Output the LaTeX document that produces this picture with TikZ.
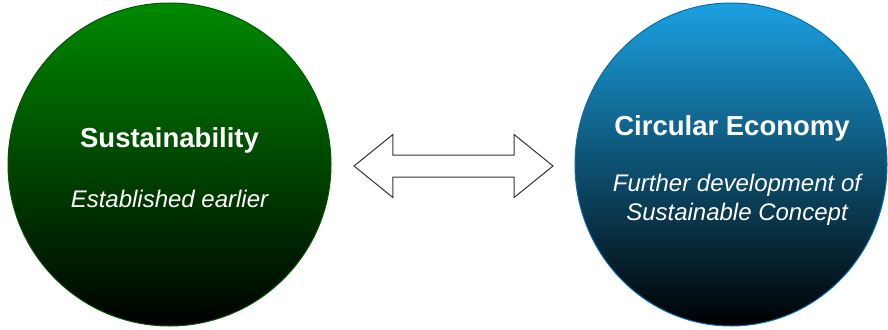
\documentclass[tikz,border=0pt]{standalone}
\usepackage{fontspec}
\setmainfont{Liberation Sans}
\usepackage{xcolor}
\usepackage{tikz}
\usetikzlibrary{shapes.geometric,shapes.arrows}

\definecolor{leafgreen}{HTML}{008A00}
\definecolor{leafedge}{HTML}{005700}
\definecolor{seablue}{HTML}{1BA1E2}
\definecolor{seaedge}{HTML}{006EAF}

\begin{document}
\begin{tikzpicture}[x=1pt, y=-1pt,
ring/.style={ellipse, draw, line width=1pt, inner sep=0pt},
title/.style={anchor=base, text=white, font=\fontsize{27.5}{33}\selectfont\bfseries},
note/.style={anchor=base, text=white, align=center, font=\fontsize{24}{29}\selectfont\itshape},
link/.style={double arrow, draw=black!80, fill=white, line width=1pt, inner xsep=0pt, inner ysep=10.5pt,
  double arrow head extend=20.5pt, double arrow tip angle=78, minimum height=199pt}
]
\useasboundingbox (0,0) rectangle (888,329);
\node[ring, draw=leafedge, top color=leafgreen, bottom color=black, minimum width=323pt, minimum height=323pt] (sus) at (169.5,164.5) {};
\node[ring, draw=seaedge, top color=seablue, bottom color=black, minimum width=312pt, minimum height=323pt] (circ) at (731,164.5) {};
\node[link] (both) at (453.5,166) {};

\node[title] (susTitle) at (169.5,147) {Sustainability};
\node[note] (susText) at (169.5,207.5) {Established earlier};
\node[title] (circTitle) at (732,135) {Circular Economy};
\node[note] (circText) at (737,220.5) {Further development of\\Sustainable Concept};
\end{tikzpicture}
\end{document}
